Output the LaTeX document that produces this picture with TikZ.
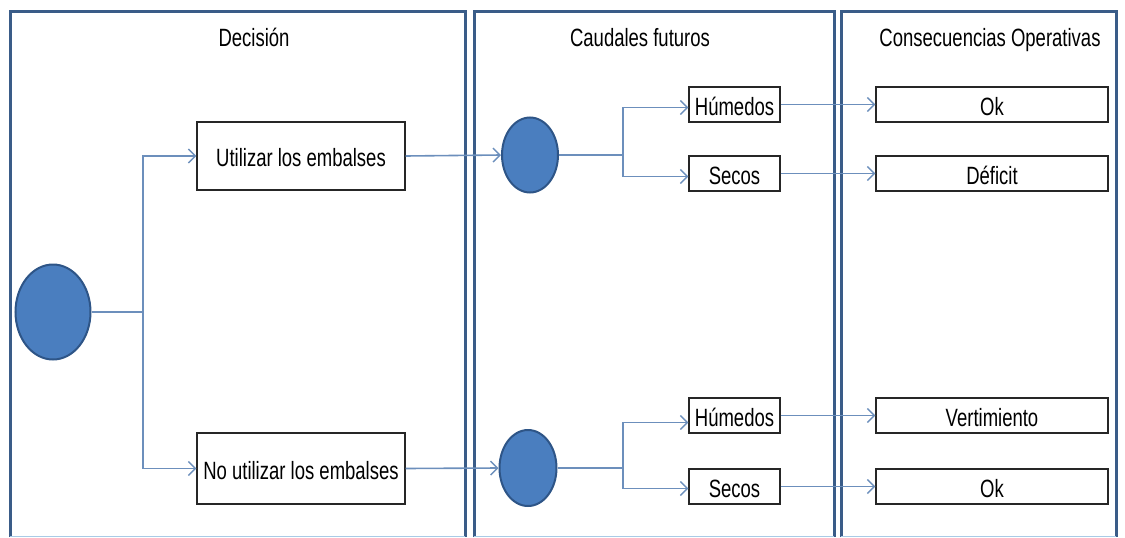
\documentclass[tikz,border=0pt]{standalone}
\usepackage{fontspec}
\setmainfont[FakeStretch=0.74]{Liberation Sans}
\usetikzlibrary{arrows.meta,shapes.geometric}
\definecolor{panelc}{HTML}{3A5C88}
\definecolor{circfill}{HTML}{4A7EBF}
\definecolor{circline}{HTML}{2E5587}
\definecolor{linkc}{HTML}{6C8FBC}
\definecolor{bottomc}{HTML}{A9CBE6}
\tikzset{
  panel/.style={draw=panelc, line width=3pt},
  chance/.style={ellipse, fill=circfill, draw=circline, line width=2pt, inner sep=0pt},
  optbox/.style={draw=black!85, line width=1.2pt, inner sep=0pt, font=\fontsize{25}{28}\selectfont, text height=21pt, text depth=0pt},
  title/.style={anchor=base, font=\fontsize{25}{28}\selectfont, inner sep=0pt},
  link/.style={draw=linkc, line width=1.6pt},
  arr/.style={link, -{Straight Barb[length=7pt,width=14pt,line width=1.4pt]}},
}
\begin{document}
\begin{tikzpicture}[x=1pt,y=-1pt]
\useasboundingbox (0,0) rectangle (1125,538);
% panels
\draw[panel] (10,537) -- (10,11) -- (465,11) -- (465,537);
\draw[panel] (474,537) -- (474,11) -- (834,11) -- (834,537);
\draw[panel] (841,537) -- (841,11) -- (1116,11) -- (1116,537);
\draw[bottomc, line width=1.5pt] (10,536.5) -- (465,536.5) (474,536.5) -- (834,536.5) (841,536.5) -- (1116,536.5);
% titles
\node[title] (t1) at (254,46) {Decisión};
\node[title] (t2) at (640,46) {Caudales futuros};
\node[title] (t3) at (990,46) {Consecuencias Operativas};
% decision node
\node[chance, minimum width=75pt, minimum height=95pt] (c0) at (53,312) {};
\node[optbox, minimum width=208pt, minimum height=68pt] (u) at (301,156) {Utilizar los embalses};
\node[optbox, minimum width=208pt, minimum height=71pt] (n) at (301,468.5) {No utilizar los embalses};
% chance nodes
\node[chance, minimum width=56pt, minimum height=75pt] (c1) at (530,155) {};
\node[chance, minimum width=57pt, minimum height=76pt] (c2) at (528,468) {};
% outcome boxes
\node[optbox, minimum width=91pt, minimum height=35pt] (h1) at (734.5,104.5) {Húmedos};
\node[optbox, minimum width=91pt, minimum height=35pt] (s1) at (734.5,173.5) {Secos};
\node[optbox, minimum width=91pt, minimum height=35pt] (h2) at (734.5,415.5) {Húmedos};
\node[optbox, minimum width=91pt, minimum height=35pt] (s2) at (734.5,486.5) {Secos};
% consequences
\node[optbox, minimum width=232pt, minimum height=35pt] (o1) at (992,104.5) {Ok};
\node[optbox, minimum width=232pt, minimum height=35pt] (d1) at (992,173.5) {Déficit};
\node[optbox, minimum width=232pt, minimum height=35pt] (v2) at (992,415.5) {Vertimiento};
\node[optbox, minimum width=232pt, minimum height=35pt] (o2) at (992,486.5) {Ok};
% junctions
\coordinate (j0) at (143,312);
\coordinate (j1) at (623,155);
\coordinate (j2) at (623,468);
% connectors
\draw[link] (c0.east) -- (j0);
\draw[arr] (j0) |- (u.west);
\draw[arr] (j0) |- (n.west);
\draw[arr] (u.east) -- (c1.west);
\draw[arr] (n.east) -- (c2.west);
\draw[link] (c1.east) -- (j1);
\draw[arr] (j1) |- ([yshift=-3pt]h1.west);
\draw[arr] (j1) |- ([yshift=-3pt]s1.west);
\draw[link] (c2.east) -- (j2);
\draw[arr] (j2) |- ([yshift=-7pt]h2.west);
\draw[arr] (j2) |- ([yshift=-2pt]s2.west);
\draw[arr] (h1.east) -- (o1.west);
\draw[arr] (s1.east) -- (d1.west);
\draw[arr] (h2.east) -- (v2.west);
\draw[arr] (s2.east) -- (o2.west);
\end{tikzpicture}
\end{document}
